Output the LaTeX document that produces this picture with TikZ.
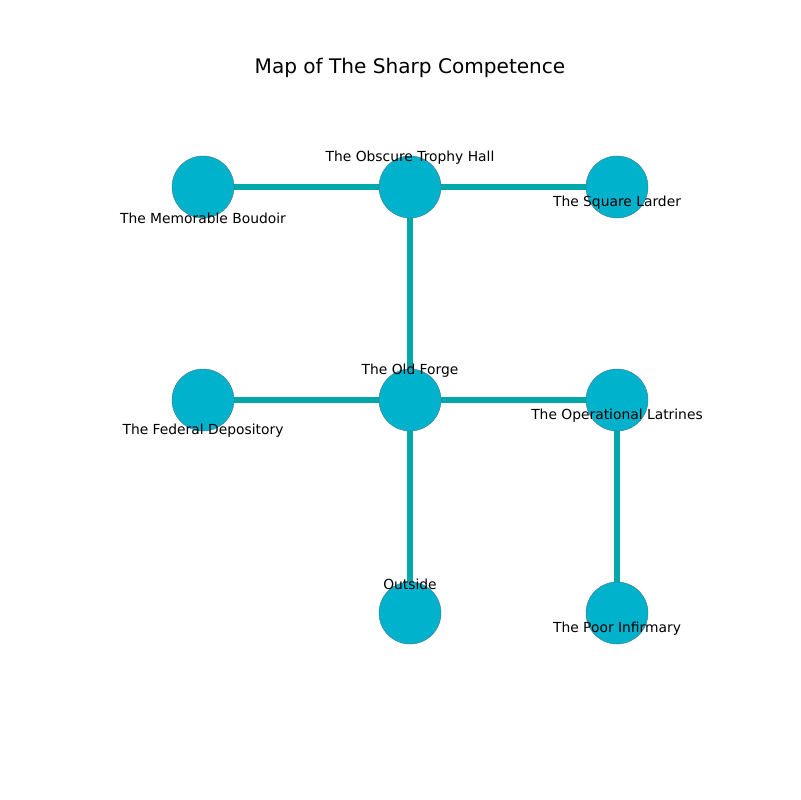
\documentclass[tikz,border=0pt]{standalone}
\usepackage{fontspec}
\setmainfont{DejaVu Sans}
\usepackage{xcolor}
\usepackage{tikz}
\usetikzlibrary{positioning,backgrounds}

\definecolor{roomfill}{RGB}{0,178,204}
\definecolor{roomedge}{RGB}{70,120,135}
\definecolor{passage}{RGB}{0,168,170}

\tikzset{
  room/.style={circle, fill=roomfill, draw=roomedge, line width=0.3pt,
    minimum size=0.62in, inner sep=0pt},
  passage/.style={draw=passage, line width=3.9pt},
  tag/.style={font=\fontsize{10}{12}\selectfont, inner sep=0pt}
}

\begin{document}
\begin{tikzpicture}[x=0.01in, y=-0.01in]
\useasboundingbox (0,0) rectangle (800,800);
\node[font=\fontsize{14.5}{17}\selectfont] (title) at (410,68) {Map of The Sharp Competence};

\node[room] (boudoir) at (203,187) {};
\node[room] (trophy) at (410,187) {};
\node[room] (larder) at (617,187) {};
\node[room] (depository) at (203,400) {};
\node[room] (forge) at (410,400) {};
\node[room] (latrines) at (617,400) {};
\node[room] (outside) at (410,613) {};
\node[room] (infirmary) at (617,613) {};

\begin{pgfonlayer}{background}
\draw[passage] (boudoir) -- (trophy);
\draw[passage] (trophy) -- (larder);
\draw[passage] (trophy) -- (forge);
\draw[passage] (depository) -- (forge);
\draw[passage] (forge) -- (latrines);
\draw[passage] (forge) -- (outside);
\draw[passage] (latrines) -- (infirmary);
\end{pgfonlayer}

\node[tag] (boudoir label) at (203,218) {The Memorable Boudoir};
\node[tag] (trophy label) at (410,158) {The Obscure Trophy Hall};
\node[tag] (larder label) at (617,203) {The Square Larder};
\node[tag] (depository label) at (203,431) {The Federal Depository};
\node[tag] (forge label) at (410,371) {The Old Forge};
\node[tag] (latrines label) at (617,416) {The Operational Latrines};
\node[tag] (outside label) at (410,584) {Outside};
\node[tag] (infirmary label) at (617,629) {The Poor Infirmary};
\end{tikzpicture}
\end{document}
